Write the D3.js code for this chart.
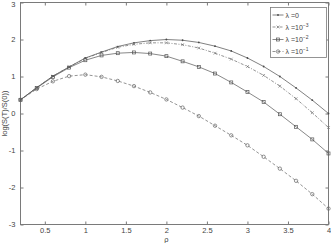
<!DOCTYPE html>
<html><head><meta charset="utf-8">
<script src="https://cdn.jsdelivr.net/npm/d3@7"></script>
<style>
html,body{margin:0;padding:0;background:#fff;}
svg{display:block;font-family:"Liberation Sans",Arial,sans-serif;}
</style></head>
<body><svg id="c" width="331" height="243"></svg>
<script>
const rho = [0.2,0.4,0.6,0.8,1.0,1.2,1.4,1.6,1.8,2.0,2.2,2.4,2.6,2.8,3.0,3.2,3.4,3.6,3.8,4.0];
const lam0   = [0.37,0.70,1.01,1.26,1.50,1.66,1.81,1.91,1.97,2.00,1.98,1.92,1.82,1.69,1.50,1.27,1.00,0.69,0.36,0.00];
const lam1e3 = [0.37,0.70,1.01,1.26,1.49,1.65,1.79,1.87,1.91,1.91,1.86,1.77,1.63,1.47,1.27,1.03,0.74,0.40,0.02,-0.38];
const lam1e2 = [0.37,0.69,0.99,1.24,1.44,1.57,1.63,1.65,1.62,1.55,1.41,1.26,1.08,0.84,0.58,0.31,-0.02,-0.36,-0.70,-1.08];
const lam1e1 = [0.37,0.66,0.87,1.01,1.05,0.99,0.88,0.74,0.57,0.38,0.16,-0.07,-0.33,-0.59,-0.86,-1.17,-1.49,-1.82,-2.18,-2.57];
const xTicks = [0.5,1,1.5,2,2.5,3,3.5,4];
const yTicks = [-3,-2,-1,0,1,2,3];
const legendBase = ["λ =0","λ =10","λ =10","λ =10"];
const legendExp = ["","−3","−2","−1"];

const L=20.5, T=2.5, W=308, H=222;
const svg=d3.select("#c");
const x=d3.scaleLinear().domain([0.2,4]).range([L,L+W]);
const y=d3.scaleLinear().domain([-3,3]).range([T+H,T]);
const axisCol="#7a7a7a", txtCol="#444";

svg.append("rect").attr("x",L).attr("y",T).attr("width",W).attr("height",H)
  .attr("fill","none").attr("stroke",axisCol).attr("stroke-width",1);

function styleAxis(g){
  g.select(".domain").remove();
  g.selectAll(".tick line").attr("stroke",axisCol);
  g.selectAll(".tick text").attr("fill",txtCol).style("font-size","7.5px");
}
svg.append("g").attr("transform",`translate(0,${T+H})`)
  .call(d3.axisBottom(x).tickValues(xTicks).tickSize(-3).tickPadding(3).tickFormat(d3.format("")))
  .call(styleAxis);
svg.append("g").attr("transform",`translate(0,${T})`)
  .call(d3.axisTop(x).tickValues(xTicks).tickSize(-3).tickFormat(""))
  .call(styleAxis);
const ya=svg.append("g").attr("transform",`translate(${L},0)`)
  .call(d3.axisLeft(y).tickValues(yTicks).tickSize(-3).tickPadding(5).tickFormat(d=>d<0?"-"+Math.abs(d):d))
  .call(styleAxis);
ya.selectAll(".tick text").filter(d=>d===3).attr("dy","0.55em");
svg.append("g").attr("transform",`translate(${L+W},0)`)
  .call(d3.axisRight(y).tickValues(yTicks).tickSize(-3).tickFormat(""))
  .call(styleAxis);

svg.append("text").attr("x",x(2)).attr("y",242).attr("text-anchor","middle")
  .attr("fill",txtCol).style("font-size","7.5px").text("ρ");
svg.append("text").attr("transform",`translate(7,${y(0)}) rotate(-90)`).attr("text-anchor","middle")
  .attr("fill",txtCol).style("font-size","7.5px").text("log(S(T)/S(0))");

const series=[
  {v:lam0,dash:null,col:"#4a4a4a",m:"dot"},
  {v:lam1e3,dash:"3,1.5,1,1.5",col:"#666",m:"x"},
  {v:lam1e2,dash:null,col:"#555",m:"sq"},
  {v:lam1e1,dash:"3,2",col:"#666",m:"o"}
];
const line=d3.line().x((d,i)=>x(rho[i])).y(d=>y(d));

function marker(g,type,cx,cy,col){
  if(type==="dot") g.append("circle").attr("cx",cx).attr("cy",cy).attr("r",0.9).attr("fill",col);
  else if(type==="x") g.append("path").attr("d",`M${cx-1.4},${cy-1.4}L${cx+1.4},${cy+1.4}M${cx-1.4},${cy+1.4}L${cx+1.4},${cy-1.4}`).attr("stroke",col).attr("stroke-width",0.6);
  else if(type==="sq") g.append("rect").attr("x",cx-1.5).attr("y",cy-1.5).attr("width",3).attr("height",3).attr("fill","none").attr("stroke",col).attr("stroke-width",0.7);
  else g.append("circle").attr("cx",cx).attr("cy",cy).attr("r",1.7).attr("fill","none").attr("stroke",col).attr("stroke-width",0.7);
}
series.forEach(s=>{
  const g=svg.append("g");
  g.append("path").attr("d",line(s.v)).attr("fill","none").attr("stroke",s.col)
    .attr("stroke-width",0.7).attr("stroke-dasharray",s.dash);
  s.v.forEach((d,i)=>marker(g,s.m,x(rho[i]),y(d),s.col));
});

const lg=svg.append("g");
lg.append("rect").attr("x",270.5).attr("y",7.5).attr("width",56).attr("height",50)
  .attr("fill","#fff").attr("stroke",axisCol).attr("stroke-width",0.8);
const ly=[15,27,39.5,51.5];
series.forEach((s,i)=>{
  lg.append("line").attr("x1",272.5).attr("x2",283.5).attr("y1",ly[i]).attr("y2",ly[i])
    .attr("stroke",s.col).attr("stroke-width",0.7).attr("stroke-dasharray",s.dash);
  marker(lg,s.m,278,ly[i],s.col);
  const t=lg.append("text").attr("x",285.5).attr("y",ly[i]+2.5).attr("fill",txtCol).style("font-size","7px");
  t.append("tspan").text(legendBase[i]);
  if(legendExp[i]) t.append("tspan").attr("dy",-3).style("font-size","5px").text(legendExp[i]);
});
</script></body></html>
